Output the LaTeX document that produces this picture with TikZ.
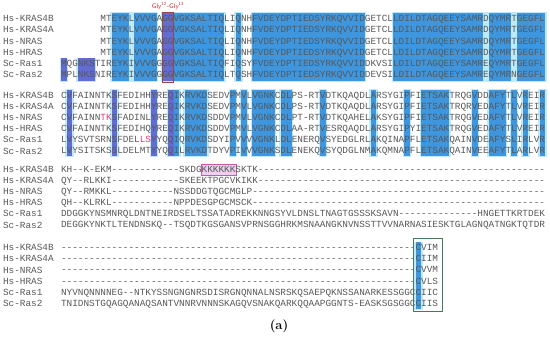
\documentclass[tikz,border=0pt]{standalone}
\usepackage{fontspec}
\setmonofont{Liberation Mono}
\definecolor{seqgray}{RGB}{88,88,88}
\definecolor{consblue}{RGB}{62,150,222}
\definecolor{conspurple}{RGB}{98,108,212}
\definecolor{halocyan}{RGB}{190,234,249}
\definecolor{glyred}{RGB}{205,35,45}
\definecolor{boxred}{RGB}{150,70,70}
\definecolor{boxgreen}{RGB}{70,120,90}
\definecolor{polypink}{RGB}{200,90,170}
\definecolor{polyfill}{RGB}{236,208,238}
\definecolor{mutpink}{RGB}{225,60,120}
\ExplSyntaxOn
\cs_new:Npn \gap #1 { \prg_replicate:nn {#1} {-} }
\ExplSyntaxOff
\tikzset{
  seq/.style={font=\ttfamily\fontsize{9.38}{11}\selectfont, text=seqgray, anchor=base west, inner sep=0pt, outer sep=0pt},
  glylabel/.style={font=\sffamily\fontsize{6.6}{7}\selectfont, text=glyred, inner sep=0pt},
  panel/.style={font=\bfseries\fontsize{13}{15}\selectfont, inner sep=0pt}
}
\begin{document}
\begin{tikzpicture}[x=1pt, y=-1pt]
            \useasboundingbox (0,0) rectangle (550,339);
            \def\shadelist{0/0/58.4/81/conspurple, 3/5/58.4/81/conspurple,
              9/11/13/81/consblue, 12/12/13/81/halocyan, 13/16/13/81/consblue, 18/19/13/81/conspurple,
              20/28/13/81/consblue, 31/31/13/81/consblue, 34/53/13/81/consblue, 59/74/13/81/consblue,
              75/75/13/81/halocyan, 76/79/13/81/consblue, 80/80/13/81/halocyan, 81/85/13/81/consblue,
              1/1/90/156.5/conspurple, 9/9/90/156.5/conspurple, 16/16/90/156.5/conspurple,
              19/19/90/156.5/conspurple, 20/20/90/156.5/consblue, 22/25/90/156.5/consblue,
              30/30/90/156.5/consblue, 32/32/90/156.5/consblue, 34/37/90/156.5/consblue,
              39/40/90/156.5/consblue, 46/46/90/156.5/consblue, 55/55/90/156.5/consblue,
              61/61/90/156.5/consblue, 64/68/90/156.5/consblue, 73/73/90/156.5/consblue,
              76/78/90/156.5/consblue, 80/80/90/156.5/consblue, 82/82/90/156.5/consblue,
              85/85/90/156.5/consblue, 63/63/242.5/309/consblue}
            \foreach \a/\b/\t/\u/\c in \shadelist
              \fill[halocyan] ({61+\a*5.63-1.4},{\t-0.8}) rectangle ({61+(\b+1)*5.63+1.4},{\u+0.8});
            \foreach \a/\b/\t/\u/\c in \shadelist
              \fill[\c] ({61+\a*5.63},\t) rectangle ({61+(\b+1)*5.63},\u);
            \filldraw[fill=polyfill, draw=polypink, line width=0.6pt] (201.5,164) rectangle (235.8,175.5);

            \foreach \y [count=\b] in {19,95.5,169.5,248}
              \foreach \nm [count=\i from 0] in {Hs-KRAS4B,Hs-KRAS4A,Hs-NRAS,Hs-HRAS,Sc-Ras1,Sc-Ras2}
                \node[seq] (lab\b-\i) at (3,{\y+11.15*\i+2.8}) {\nm};

            \foreach \c/\s [count=\i from 0] in {
              7/MTEYKLVVVGAGGVGKSALTIQLIQNHFVDEYDPTIEDSYRKQVVIDGETCLLDILDTAGQEEYSAMRDQYMRTGEGFL,
              7/MTEYKLVVVGAGGVGKSALTIQLIQNHFVDEYDPTIEDSYRKQVVIDGETCLLDILDTAGQEEYSAMRDQYMRTGEGFL,
              7/MTEYKLVVVGAGGVGKSALTIQLIQNHFVDEYDPTIEDSYRKQVVIDGETCLLDILDTAGQEEYSAMRDQYMRTGEGFL,
              7/MTEYKLVVVGAGGVGKSALTIQLIQNHFVDEYDPTIEDSYRKQVVIDGETCLLDILDTAGQEEYSAMRDQYMRTGEGFL,
              0/MQGNKSTIREYKIVVVGGGGVGKSALTIQFIQSYFVDEYDPTIEDSYRKQVVIDDKVSILDILDTAGQEEYSAMREQYMRTGEGFL,
              0/MPLNKSNIREYKIVVVGGGGVGKSALTIQLTQSHFVDEYDPTIEDSYRKQVVIDDEVSILDILDTAGQEEYSAMREQYMRNGEGFL}
              \node[seq] (seq1-\i) at ({61+\c*5.63},{19+11.2*\i+2.8}) {\s};

            \foreach \s [count=\i from 0] in {
              CVFAINNTKSFEDIHHYREQIKRVKDSEDVPMVLVGNKCDLPS-RTVDTKQAQDLARSYGIPFIETSAKTRQGVDDAFYTLVREIR,
              CVFAINNTKSFEDIHHYREQIKRVKDSEDVPMVLVGNKCDLPS-RTVDTKQAQDLARSYGIPFIETSAKTRQRVEDAFYTLVREIR,
              CVFAINN\textcolor{mutpink}{TK}SFADINLYREQIKRVKDSDDVPMVLVGNKCDLPT-RTVDTKQAHELAKSYGIPFIETSAKTRQGVEDAFYTLVREIR,
              CVFAINNTKSFEDIHQYREQIKRVKDSDDVPMVLVGNKCDLAA-RTVESRQAQDLARSYGIPYIETSAKTRQGVEDAFYTLVREIR,
              LVYSVTSRNSFDEL\textcolor{mutpink}{LS}YYQQIQRVKDSDYIPVVVVGNKLDLENERQVSYEDGLRLAKQINAPFLETSAKQAINVDEAFYSLIRLVR,
              LVYSITSKSSLDELMTYYQQILRVKDTDYVPIVVVGNKSDLENEKQVSYQDGLNMAKQMNAPFLETSAKQAINVEEAFYTLARLVR}
              \node[seq] (seq2-\i) at (61,{95.5+11.1*\i+2.8}) {\s};

            \foreach \s [count=\i from 0] in {
              KH--K-EKM\gap{12}SKDGKKKKKKSKTK\gap{51},
              QY--RLKKI\gap{12}SKEEKTPGCVKIKK\gap{51},
              QY--RMKKL\gap{11}NSSDDGTQGCMGLP\gap{52},
              QH--KLRKL\gap{11}NPPDESGPGCMSCK\gap{52},
              DDGGKYNSMNRQLDNTNEIRDSELTSSATADREKKNNGSYVLDNSLTNAGTGSSSKSAVN\gap{14}HNGETTKRTDEK,
              DEGGKYNKTLTENDNSKQ--TSQDTKGSGANSVPRNSGGHRKMSNAANGKNVNSSTTVVNARNASIESKTGLAGNQATNGKTQTDR}
              \node[seq] (seq3-\i) at (61,{169.5+11.1*\i+2.8}) {\s};

            \foreach \s [count=\i from 0] in {
              \gap{63}CVIM, \gap{63}CIIM, \gap{63}CVVM, \gap{63}CVLS,
              NYVNQNNNNEG--NTKYSSNGNGNRSDISRGNQNNALNSRSKQSAEPQKNSSANARKESSGGCCIIC,
              TNIDNSTGQAGQANAQSANTVNNRVNNNSKAGQVSNAKQARKQQAAPGGNTS-EASKSGSGGCCIIS}
              \node[seq] (seq4-\i) at (61,{248+11.1*\i+2.8}) {\s};

            \node[glylabel] (gly) at (168,6) {Gly\textsuperscript{12}-Gly\textsuperscript{13}};
            \draw[boxred, line width=0.8pt] (162.2,12.8) rectangle (173.8,82.6);
            \draw[boxgreen, line width=0.8pt] (413.5,238) rectangle (442,311);
            \node[panel] (tag) at (279,326) {(a)};
        \end{tikzpicture}
\end{document}
